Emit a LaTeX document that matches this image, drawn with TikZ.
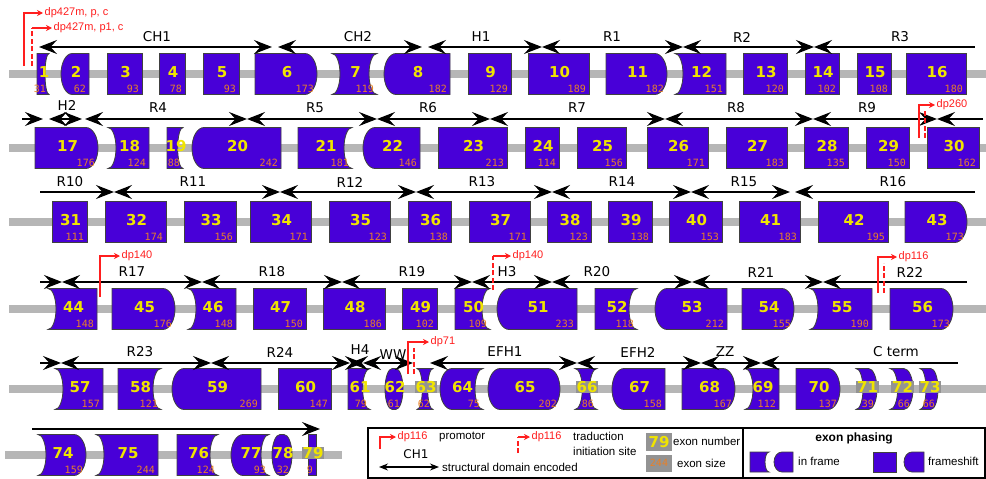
\documentclass[tikz,border=0pt]{standalone}
\usepackage{fontspec}
\setmainfont{DejaVu Sans}
\newfontfamily\monofam{DejaVu Sans Mono}
\newfontfamily\smallfam{Liberation Sans}
\usetikzlibrary{arrows.meta}

\definecolor{exonblue}{RGB}{72,0,216}
\definecolor{exonyellow}{RGB}{240,228,0}
\definecolor{exonorange}{RGB}{232,128,40}
\definecolor{dpred}{RGB}{255,30,30}
\definecolor{bargray}{RGB}{182,182,182}

% exon geometry: half height, bulge, concave depth
\def\exh{20.5}
\def\exb{12}
\def\exd{8}
\newcommand\exRF{-- (\xr,\yb)}
\newcommand\exRX{arc[start angle=90,end angle=-90,x radius=\bx,y radius=\exh]}
\newcommand\exRV{arc[start angle=90,end angle=270,x radius=\dx,y radius=\exh]}
\newcommand\exLF{-- (\xl,\yt)}
\newcommand\exLX{arc[start angle=270,end angle=90,x radius=\bx,y radius=\exh]}
\newcommand\exLV{arc[start angle=-90,end angle=90,x radius=\dx,y radius=\exh]}

% #1 number, #2 left, #3 right, #4 centre y, #5/#6 left/right end (F, X or V), #7 size
\newcommand\exon[7]{%
  \pgfmathsetmacro\bx{min(\exb,(#3-#2)/2.5)}%
  \pgfmathsetmacro\dx{min(\exd,(#3-#2)/3)}%
  \if#5X\pgfmathsetmacro\xl{#2+\bx}\else\def\xl{#2}\fi
  \if#6X\pgfmathsetmacro\xr{#3-\bx}\else\def\xr{#3}\fi
  \pgfmathsetmacro\yt{#4+\exh}\pgfmathsetmacro\yb{#4-\exh}%
  \expandafter\let\expandafter\rend\csname exR#6\endcsname
  \expandafter\let\expandafter\lend\csname exL#5\endcsname
  \draw[exon] (\xl,\yt) -- (\xr,\yt) \rend -- (\xl,\yb) \lend -- cycle;
  \node[exnum, num#1/.try] (e#1) at ({(#2+#3)/2+1},#4+2) {#1};
  \node[exsize] (s#1) at (#3-3,\yb+1.5) {#7};
}

% small exons whose number sits on a grey box
\tikzset{
  numbox/.style={fill=gray!85, inner sep=0.8pt},
  num63/.style={numbox}, num66/.style={numbox}, num71/.style={numbox},
  num72/.style={numbox}, num73/.style={numbox}, num79/.style={numbox}
}

\begin{document}
\begin{tikzpicture}[x=1pt,y=1pt,
    >={Stealth[length=18pt,width=14pt,inset=6.5pt]},
    bar/.style={line width=8pt, draw=bargray},
    exon/.style={fill=exonblue, draw=black!75, line width=0.8pt},
    exnum/.style={font=\bfseries\fontsize{15}{15}\selectfont, text=exonyellow, inner sep=0pt},
    exsize/.style={font=\monofam\fontsize{10}{10}\selectfont, text=exonorange, inner sep=0pt, anchor=south east},
    dom/.style={line width=1.3pt},
    domlab/.style={font=\fontsize{13.5}{13.5}\selectfont, inner sep=0pt},
    prom/.style={draw=dpred, line width=1.6pt, -{Stealth[length=6pt,width=6pt]}},
    trans/.style={draw=dpred, line width=1.6pt, dash pattern=on 5pt off 2.5pt},
    dplab/.style={font=\smallfam\fontsize{11}{11}\selectfont, text=dpred, inner sep=1.5pt, anchor=west},
    legtxt/.style={font=\smallfam\fontsize{11.5}{11.5}\selectfont, inner sep=1pt, anchor=west}
]
\useasboundingbox (0,0) rectangle (986,-479);

% Bars
\foreach \r/\y in {1/-74,2/-148,3/-222,4/-309,5/-389} {
  \coordinate (bar\r a) at (9,\y);
  \coordinate (bar\r b) at (986,\y);
  \draw[bar] (bar\r a) -- (bar\r b);
}
\coordinate (bar6a) at (5,-455);
\coordinate (bar6b) at (342,-455);
\draw[bar] (bar6a) -- (bar6b);

% Exons
\foreach \n/\a/\b/\p/\q/\s in {1/37/49/F/V/31, 2/61/89/X/F/62, 3/107/142/F/F/93, 4/159/185/F/F/78,
    5/203/239/F/F/93, 6/255/317/F/X/173, 7/332/377/V/V/119, 8/384/450/X/F/182, 9/468/511/F/F/129,
    10/528/589/F/F/189, 11/606/667/F/X/182, 12/675/726/V/F/151, 13/743/787/F/F/120,
    14/805/839/F/F/102, 15/857/891/F/F/108, 16/906/966/F/F/180}
  \exon{\n}{\a}{\b}{-74}{\p}{\q}{\s};
\foreach \n/\a/\b/\p/\q/\s in {17/35/98/F/X/176, 18/108/149/V/F/124, 19/167/183/F/V/88,
    20/192/281/X/F/242, 21/298/352/F/V/181, 22/363/420/X/F/146, 23/438/507/F/F/213,
    24/525/559/F/F/114, 25/577/626/F/F/156, 26/647/708/F/F/171, 27/726/787/F/F/183,
    28/804/848/F/F/135, 29/866/909/F/F/150, 30/927/979/F/F/162}
  \exon{\n}{\a}{\b}{-148}{\p}{\q}{\s};
\foreach \n/\a/\b/\p/\q/\s in {31/52/87/F/F/111, 32/105/166/F/F/174, 33/184/236/F/F/156,
    34/250/311/F/F/171, 35/329/390/F/F/123, 36/408/451/F/F/138, 37/469/530/F/F/171,
    38/547/591/F/F/123, 39/608/652/F/F/138, 40/669/722/F/F/153, 41/739/800/F/F/183,
    42/818/888/F/F/195, 43/905/967/F/X/173}
  \exon{\n}{\a}{\b}{-222}{\p}{\q}{\s};
\foreach \n/\a/\b/\p/\q/\s in {44/48/97/V/F/148, 45/112/175/F/X/176, 46/188/236/V/F/148,
    47/253/306/F/F/150, 48/323/385/F/F/186, 49/402/437/F/F/102, 50/455/490/F/V/109,
    51/497/577/X/F/233, 52/595/637/F/V/118, 53/655/727/X/F/212, 54/742/794/F/X/155,
    55/810/872/V/F/190, 56/890/953/F/X/173}
  \exon{\n}{\a}{\b}{-309}{\p}{\q}{\s};
\foreach \n/\a/\b/\p/\q/\s in {57/55/103/V/F/157, 58/118/161/F/V/121, 59/172/261/X/F/269,
    60/278/331/F/F/147, 61/348/370/F/V/79, 62/385/403/X/X/61, 63/417/433/V/V/62,
    64/440/483/X/V/75, 65/488/560/X/X/202, 66/575/597/V/V/86, 67/612/665/X/F/158,
    68/682/735/F/X/167, 69/745/779/V/F/112, 70/796/840/F/X/137, 71/856/877/V/X/39,
    72/890/913/V/X/66, 73/920/938/V/X/66}
  \exon{\n}{\a}{\b}{-389}{\p}{\q}{\s};
\foreach \n/\a/\b/\p/\q/\s in {74/38/86/V/X/159, 75/96/158/V/F/244, 76/177/218/F/V/124,
    77/231/269/X/V/93, 78/272/292/X/X/32, 79/308/316/F/F/9}
  \exon{\n}{\a}{\b}{-455}{\p}{\q}{\s};

% Domains, row 1
\foreach \nm/\x in {a/39,b/272,c/278,d/422,e/428,f/542,g/683,h/814,i/975}
  \coordinate (d1\nm) at (\x,-47);
\foreach \s/\e in {d1a/d1b,d1c/d1d,d1e/d1f,d1f/d1g,d1g/d1h}
  \draw[dom,<->] (\s) -- (\e);
\draw[dom,<-] (d1h) -- (d1i);
\foreach \t/\x in {CH1/157,CH2/358,H1/481,R1/612,R2/742,R3/900}
  \node[domlab] (l\t) at (\x,-37) {\t};

% Domains, row 2
\foreach \nm/\x in {a/22,b/43,c/49,d/82,e/85,f/247,g/377,h/490,i/665,j/813,k/937,l/983}
  \coordinate (d2\nm) at (\x,-119);
\draw[dom,->] (d2a) -- (d2b);
\foreach \s/\e in {d2c/d2d,d2e/d2f,d2f/d2g,d2g/d2h,d2h/d2i,d2i/d2j,d2j/d2k}
  \draw[dom,<->] (\s) -- (\e);
\draw[dom,<-] (d2k) -- (d2l);
\node[domlab] (lH2) at (67,-105) {H2};
\foreach \t/\x in {R4/158,R5/315,R6/428,R7/577,R8/736,R9/867}
  \node[domlab] (l\t) at (\x,-108) {\t};

% Domains, row 3
\foreach \nm/\x in {a/40,b/114,c/280,d/416,e/552,f/691,g/790,h/795,i/975}
  \coordinate (d3\nm) at (\x,-192);
\draw[dom,->] (d3a) -- (d3b);
\foreach \s/\e in {d3b/d3c,d3c/d3d,d3d/d3e,d3e/d3f,d3f/d3g}
  \draw[dom,<->] (\s) -- (\e);
\draw[dom,<-] (d3h) -- (d3i);
\foreach \t/\x in {R10/70,R11/193,R12/350,R13/482,R14/622,R15/744,R16/893}
  \node[domlab] (l\t) at (\x,-182) {\t};

% Domains, row 4
\foreach \nm/\x in {a/40,b/62,c/202,d/342,e/472,f/552,g/692,h/823,i/967}
  \coordinate (d4\nm) at (\x,-282);
\draw[dom,->] (d4a) -- (d4b);
\foreach \s/\e in {d4b/d4c,d4c/d4d,d4d/d4e,d4e/d4f,d4f/d4g,d4g/d4h}
  \draw[dom,<->] (\s) -- (\e);
\draw[dom,<-] (d4h) -- (d4i);
\foreach \t/\x in {R17/132,R18/272,R19/412,H3/507,R20/597,R21/761,R22/910}
  \node[domlab] (l\t) at (\x,-272) {\t};

% Domains, row 5
\foreach \nm/\x in {a/40,b/61,c/211,d/350,e/363,f/413,g/430,h/577,i/701,j/761,k/958}
  \coordinate (d5\nm) at (\x,-363);
\draw[dom,->] (d5a) -- (d5b);
\foreach \s/\e in {d5b/d5c,d5c/d5d,d5d/d5e,d5e/d5f,d5g/d5h,d5h/d5i,d5i/d5j}
  \draw[dom,<->] (\s) -- (\e);
\draw[dom,<-] (d5j) -- (d5k);
\foreach \nm/\t/\x/\y in {R23/R23/140/-352,R24/R24/280/-352,H4/H4/360/-350,WW/WW/393/-355,
    EFH1/EFH1/505/-352,EFH2/EFH2/638/-352,ZZ/ZZ/725/-352,Cterm/C term/896/-352}
  \node[domlab] (l\nm) at (\x,\y) {\t};

% Domains, row 6
\coordinate (d6a) at (32,-429);
\coordinate (d6b) at (320,-429);
\draw[dom,->] (d6a) -- (d6b);

% Promotors and translation sites
\coordinate (p1a) at (24,-66);   \coordinate (p1b) at (43,-13);
\draw[prom] (p1a) |- (p1b);
\node[dplab] (tp1) at (p1b) {dp427m, p, c};
\coordinate (p2a) at (32,-66);   \coordinate (p2c) at (32,-28);   \coordinate (p2b) at (52,-28);
\draw[trans] (p2a) -- (p2c);
\draw[prom] (p2c) -- (p2b);
\node[dplab] (tp2) at (p2b) {dp427m, p1, c};

\coordinate (p3a) at (919,-138); \coordinate (p3b) at (935,-105);
\coordinate (p3c) at (925,-138); \coordinate (p3d) at (925,-111);
\draw[prom] (p3a) |- (p3b);
\draw[trans] (p3c) -- (p3d);
\node[dplab] (tp3) at (p3b) {dp260};

\coordinate (p4a) at (100,-297); \coordinate (p4b) at (120,-256);
\draw[prom] (p4a) |- (p4b);
\node[dplab] (tp4) at (p4b) {dp140};
\coordinate (p5a) at (493,-290); \coordinate (p5c) at (493,-256); \coordinate (p5b) at (511,-256);
\draw[trans] (p5a) -- (p5c);
\draw[prom] (p5c) -- (p5b);
\node[dplab] (tp5) at (p5b) {dp140};

\coordinate (p6a) at (878,-293); \coordinate (p6b) at (897,-257);
\coordinate (p6c) at (884,-293); \coordinate (p6d) at (884,-263);
\draw[prom] (p6a) |- (p6b);
\draw[trans] (p6c) -- (p6d);
\node[dplab] (tp6) at (p6b) {dp116};

\coordinate (p7a) at (408,-374); \coordinate (p7b) at (429,-342);
\coordinate (p7c) at (414,-374); \coordinate (p7d) at (414,-348);
\draw[prom] (p7a) |- (p7b);
\draw[trans] (p7c) -- (p7d);
\node[dplab] (tp7) at (p7b) {dp71};

% Legend
\draw[line width=2.5pt, fill=white] (368,-428) rectangle (985,-478);
\draw[line width=1.2pt] (743,-428) -- (743,-478);

\coordinate (lp0) at (380,-449); \coordinate (lp1) at (396,-437);
\draw[prom] (lp0) |- (lp1);
\node[dplab] (lpt) at (lp1) {dp116};
\node[legtxt] (lpp) at (438,-437) {promotor};

\coordinate (lt0) at (518,-453); \coordinate (lt1) at (518,-437); \coordinate (lt2) at (530,-437);
\draw[trans] (lt0) -- (lt1);
\draw[prom] (lt1) -- (lt2);
\node[dplab] (ltt) at (lt2) {dp116};
\node[legtxt] (ltr) at (572,-436) {traduction};
\node[legtxt] (lti) at (572,-451) {initiation site};

\node[font=\fontsize{12}{12}\selectfont, inner sep=0pt] (lch) at (416,-454) {CH1};
\coordinate (la0) at (379,-467); \coordinate (la1) at (439,-467);
\draw[line width=1.2pt, {Stealth[length=9pt,width=7pt]}-{Stealth[length=9pt,width=7pt]}] (la0) -- (la1);
\node[legtxt] (lsd) at (441,-467) {structural domain encoded};

\node[exnum, fill=gray!85, minimum width=26pt, minimum height=18pt] (l79) at (659,-442) {79};
\node[legtxt] (lnum) at (672,-441) {exon number};
\node[exsize, anchor=center, fill=gray!85, minimum width=26pt, minimum height=17pt] (l244) at (659,-463) {244};
\node[legtxt] (lsize) at (676,-463) {exon size};

\node[font=\smallfam\bfseries\fontsize{12}{12}\selectfont] (lph) at (854,-438) {exon phasing};
\draw[exon] (750,-452) -- (769,-452) arc[start angle=90,end angle=270,x radius=4,y radius=10] -- (750,-472) -- cycle;
\draw[exon] (782,-452) -- (793,-452) -- (793,-472) -- (782,-472) arc[start angle=270,end angle=90,x radius=8,y radius=10] -- cycle;
\node[legtxt] (lif) at (797,-461) {in frame};
\draw[exon] (873,-452) rectangle (896,-472);
\draw[exon] (912,-452) -- (924,-452) -- (924,-472) -- (912,-472) arc[start angle=270,end angle=90,x radius=8,y radius=10] -- cycle;
\node[legtxt] (lfs) at (927,-461) {frameshift};

\end{tikzpicture}
\end{document}
